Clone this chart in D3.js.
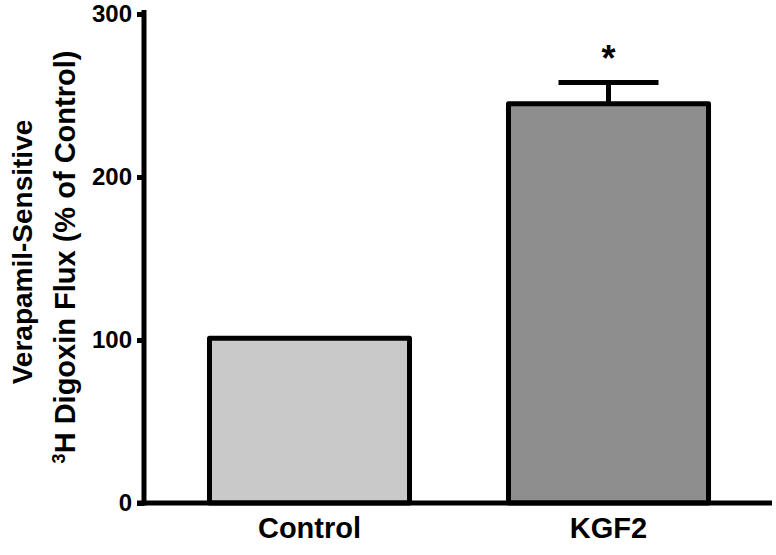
<!DOCTYPE html>
<html>
<head>
<meta charset="utf-8">
<script src="https://cdn.jsdelivr.net/npm/d3@7"></script>
<style>
  html, body { margin: 0; padding: 0; background: #fff; }
  svg { display: block; }
  text { font-family: "Liberation Sans", Arial, Helvetica, sans-serif; font-weight: bold; fill: #000; }
</style>
</head>
<body>
<svg id="chart" width="776" height="555"></svg>
<script>
// ---- data ----
const categories = ["Control", "KGF2"];
const values = [101, 245];
const errors = [0, 13];
const significance = ["", "*"];
const barColors = ["#c9c9c9", "#8e8e8e"];
const yTicks = [0, 100, 200, 300];

// ---- layout ----
const svg = d3.select("#chart");
const axisX = 144, baseY = 503;

const x = d3.scaleBand()
  .domain(categories)
  .range([axisX, 774])
  .paddingInner(0.331)
  .paddingOuter(0.219);

const y = d3.scaleLinear()
  .domain([0, 300])
  .range([baseY, 14]);

// bars
svg.selectAll("rect.bar")
  .data(categories)
  .enter().append("rect")
  .attr("class", "bar")
  .attr("x", d => x(d))
  .attr("width", x.bandwidth())
  .attr("y", (d, i) => y(values[i]))
  .attr("height", (d, i) => y(0) - y(values[i]))
  .attr("fill", (d, i) => barColors[i])
  .attr("stroke", "#000")
  .attr("stroke-width", 5)
  .attr("stroke-linejoin", "round");

// error bars (upper only)
categories.forEach((c, i) => {
  if (!errors[i]) return;
  const cx = x(c) + x.bandwidth() / 2;
  const capW = x.bandwidth() / 2;
  svg.append("line")
    .attr("x1", cx).attr("x2", cx)
    .attr("y1", y(values[i])).attr("y2", y(values[i] + errors[i]))
    .attr("stroke", "#000").attr("stroke-width", 5);
  svg.append("line")
    .attr("x1", cx - capW / 2).attr("x2", cx + capW / 2)
    .attr("y1", y(values[i] + errors[i])).attr("y2", y(values[i] + errors[i]))
    .attr("stroke", "#000").attr("stroke-width", 5);
  if (significance[i]) {
    svg.append("text")
      .attr("x", cx)
      .attr("y", y(values[i] + errors[i]) - 11)
      .attr("text-anchor", "middle")
      .attr("font-size", 36)
      .text(significance[i]);
  }
});

// y axis
const yAxis = d3.axisLeft(y).tickValues(yTicks).tickSize(7).tickPadding(5).tickFormat(d3.format("d"));
const gy = svg.append("g").attr("transform", `translate(${axisX},0)`).call(yAxis);
gy.select(".domain").remove();
gy.selectAll(".tick line").attr("stroke", "#000").attr("stroke-width", 5);
gy.selectAll(".tick text").attr("font-size", 24).attr("font-family", "Liberation Sans, Arial, sans-serif").attr("font-weight", "bold").attr("fill", "#000");
svg.append("line")
  .attr("x1", axisX).attr("x2", axisX)
  .attr("y1", 10).attr("y2", baseY + 2.5)
  .attr("stroke", "#000").attr("stroke-width", 5);

// x axis baseline
svg.append("line")
  .attr("x1", axisX - 7).attr("x2", 772)
  .attr("y1", baseY).attr("y2", baseY)
  .attr("stroke", "#000").attr("stroke-width", 5);

// x labels
svg.selectAll("text.xlab")
  .data(categories)
  .enter().append("text")
  .attr("class", "xlab")
  .attr("x", d => x(d) + x.bandwidth() / 2)
  .attr("y", 538)
  .attr("text-anchor", "middle")
  .attr("font-size", 29)
  .text(d => d);

// y title
const t1 = svg.append("text")
  .attr("transform", "translate(32,252) rotate(-90)")
  .attr("text-anchor", "middle")
  .attr("font-size", 28)
  .text("Verapamil-Sensitive");
const t2 = svg.append("text")
  .attr("transform", "translate(75,257) rotate(-90)")
  .attr("text-anchor", "middle")
  .attr("font-size", 29);
t2.append("tspan").attr("font-size", 18).attr("dy", -10).text("3");
t2.append("tspan").attr("dy", 10).text("H Digoxin Flux (% of Control)");
</script>
</body>
</html>
